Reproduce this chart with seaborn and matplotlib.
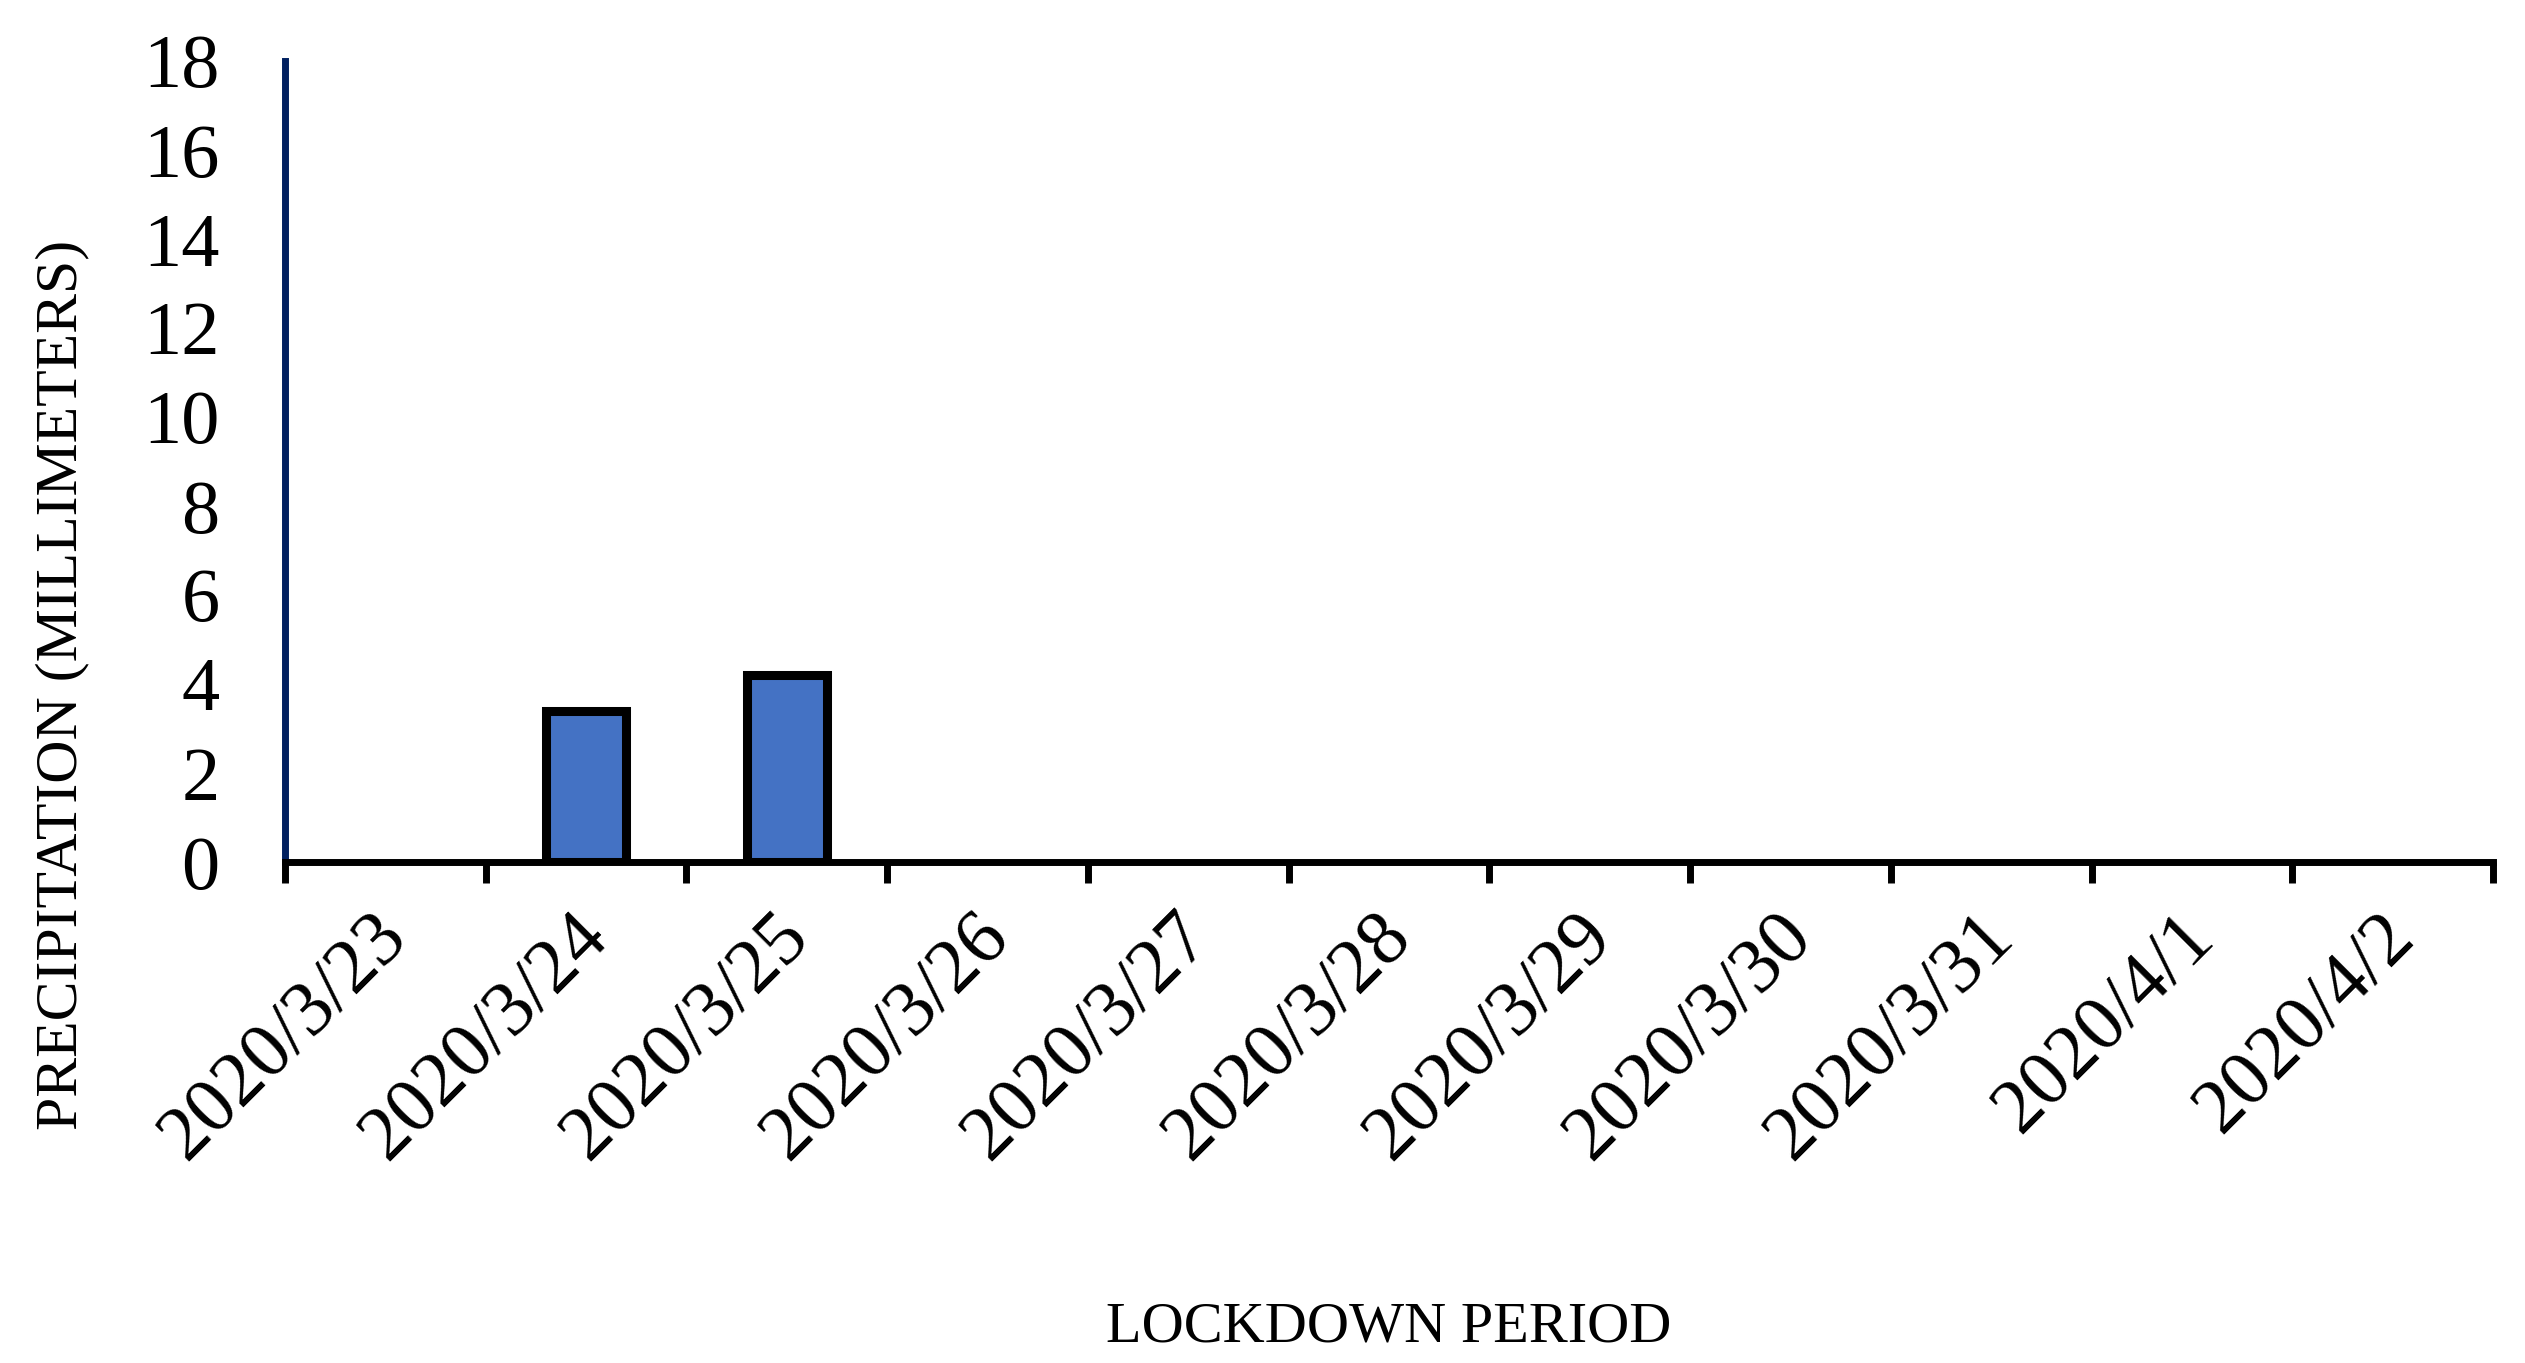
import matplotlib
matplotlib.use("Agg")
import matplotlib.pyplot as plt
import matplotlib.transforms as mtransforms
import seaborn as sns
import pandas as pd
from matplotlib.ticker import FixedLocator

dates = ["2020/3/23", "2020/3/24", "2020/3/25", "2020/3/26", "2020/3/27", "2020/3/28",
         "2020/3/29", "2020/3/30", "2020/3/31", "2020/4/1", "2020/4/2"]
precip = [0, 3.4, 4.2, 0, 0, 0, 0, 0, 0, 0, 0]
yticks = [0, 2, 4, 6, 8, 10, 12, 14, 16, 18]

sns.set_theme(style="white")
plt.rcParams['font.family'] = ['Liberation Serif', 'DejaVu Serif']
plt.rcParams['text.color'] = 'black'
plt.rcParams['axes.labelcolor'] = 'black'
plt.rcParams['xtick.color'] = 'black'
plt.rcParams['ytick.color'] = 'black'

df = pd.DataFrame({"date": dates, "precip": precip})

fig = plt.figure(figsize=(25.25, 13.63), dpi=100)
ax = fig.add_axes([285/2525, 1 - 862/1363, (2493-285)/2525, (862-61)/1363])

sns.barplot(data=df, x="date", y="precip", color="#4472C4", saturation=1,
            edgecolor="black", linewidth=6.5, width=0.4, ax=ax)
for p in ax.patches:
    if p.get_height() == 0:
        p.set_linewidth(0)

ax.set_xlim(-0.5, len(dates) - 0.5)
ax.set_ylim(0, 18)
ax.set_yticks(yticks)
ax.set_yticklabels([str(v) for v in yticks], fontsize=55, color='black')
ax.tick_params(axis='y', length=0, pad=47)

ax.set_xticks(range(len(dates)))
ax.set_xticklabels(dates, fontsize=56, rotation=45, ha='right', rotation_mode='anchor',
                   va='center', color='black')
ax.tick_params(axis='x', which='major', length=0, pad=46)
shift = mtransforms.ScaledTranslation(11/100, 0, fig.dpi_scale_trans)
for lab in ax.get_xticklabels():
    lab.set_transform(lab.get_transform() + shift)
ax.xaxis.set_minor_locator(FixedLocator([i - 0.5 for i in range(len(dates) + 1)]))
ax.tick_params(axis='x', which='minor', bottom=True, length=15, width=5, color='black', direction='out')

for s in ['top', 'right']:
    ax.spines[s].set_visible(False)
ax.spines['left'].set_color('#002060')
ax.spines['left'].set_linewidth(5)
ax.spines['bottom'].set_color('black')
ax.spines['bottom'].set_linewidth(5)
ax.spines['bottom'].set_zorder(5)
ax.grid(False)

ax.set_xlabel("LOCKDOWN PERIOD", fontsize=42, va='baseline', ha='center', color='black')
ax.xaxis.set_label_coords(0.5, (862 - 1341) / 801)
ax.set_ylabel("PRECIPITATION (MILLIMETERS)", fontsize=43, va='center', ha='center', color='black')
ax.yaxis.set_label_coords((62 - 285) / 2208, (862 - 685) / 801)

fig.savefig("out.png", dpi=100, facecolor="white")
